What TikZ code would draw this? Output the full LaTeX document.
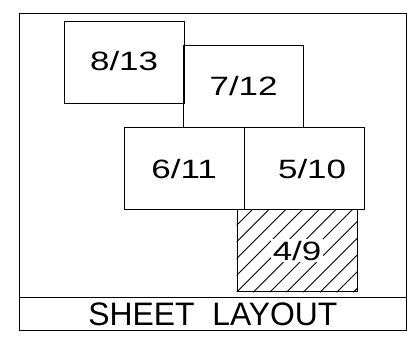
\documentclass[tikz,border=0pt]{standalone}
\usepackage{graphicx}
\usepackage{fontspec}
\setmainfont{Liberation Sans}
\newcommand\numfont{\fontsize{26.5}{26.5}\selectfont}
\newcommand\widetxt[1]{\scalebox{1.32}[1]{#1}}
\begin{document}
\begin{tikzpicture}[x=1pt,y=-1pt,
  frame/.style={draw, line width=1.4pt},
  box/.style={draw, line width=1.2pt, minimum width=120pt, minimum height=82pt,
    inner sep=0pt, anchor=north west, font=\numfont},
  hatchline/.style={line width=0.9pt},
  ]
\useasboundingbox (0,0) rectangle (409,338);
% outer frame and title strip
\node[frame, minimum width=386.5pt, minimum height=317pt, inner sep=0pt, anchor=north west] (outer) at (19,13) {};
\node[frame, minimum width=386.5pt, minimum height=33pt, inner sep=0pt, anchor=north west,
  font=\fontsize{32.5}{32.5}\selectfont] (title) at (19,297) {\raisebox{-1.5pt}{\scalebox{0.98}[1]{SHEET\ \ LAYOUT}}};
% sheets
\node[box] (s8) at (63.5,20.5) {\raisebox{2pt}{\widetxt{8/13}}};
\node[box] (s7) at (183,44.5) {\widetxt{7/12}};
\node[box] (s6) at (123.5,127) {\widetxt{6/11}};
\node[box] (s5) at (243.5,127) {\hspace*{16pt}\widetxt{5/10}};
\node[box] (s4) at (236.5,209) {};
\begin{scope}
  \clip (s4.north west) rectangle (s4.south east);
  \foreach \i in {-6,...,8}
    \draw[hatchline] ([xshift=\i*16.7pt]s4.south west) -- ++(90,-90);
\end{scope}
\node[fill=white, inner sep=1.5pt, font=\numfont] (t4) at (s4.center) {\widetxt{4/9}};
\node[box] (s4edge) at (s4.north west) {};
\end{tikzpicture}
\end{document}
